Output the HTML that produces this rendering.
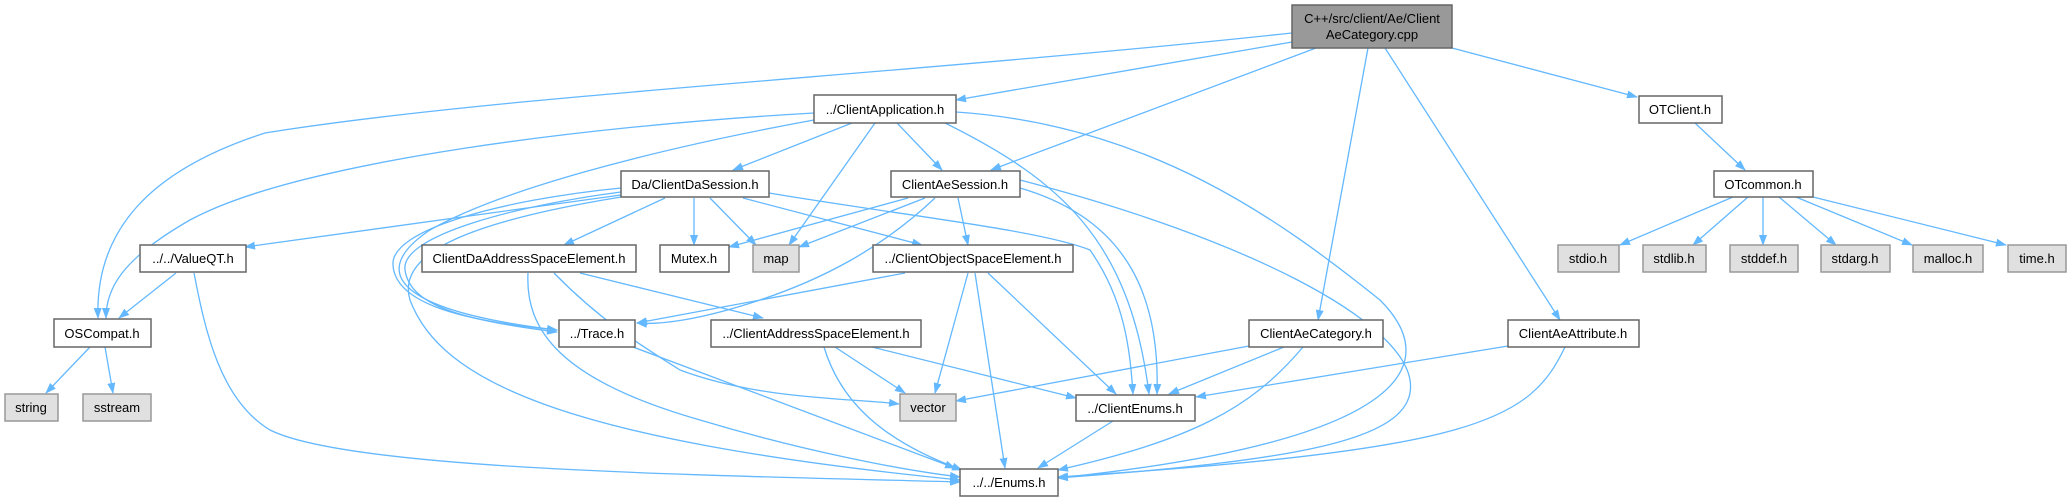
<!DOCTYPE html>
<html><head><meta charset="utf-8"><style>
html,body{margin:0;padding:0;background:#fff;width:2071px;height:501px;overflow:hidden}
svg{display:block}
text{font-family:"Liberation Sans",Arial,sans-serif;font-size:13px;fill:#000;text-anchor:middle}
.e{fill:none;stroke:#63b8ff;stroke-width:1.3}
.n{fill:#fff;stroke:#666;stroke-width:1.5}
.g{fill:#e0e0e0;stroke:#999;stroke-width:1.5}
</style></head><body>
<svg width="2071" height="501" viewBox="0 0 2071 501" xmlns="http://www.w3.org/2000/svg">
<defs><marker id="a" markerUnits="userSpaceOnUse" markerWidth="11" markerHeight="8" refX="10" refY="4" orient="auto"><path d="M0,0 L11,4 L0,8 z" fill="#63b8ff"/></marker></defs>
<g class="e" marker-end="url(#a)">
<!-- root -->
<path d="M1292,33 C900,75 500,95 265,133 C150,170 95,230 98,318"/>
<path d="M1292,42 L956,100"/>
<path d="M1316,48 L991,170"/>
<path d="M1368,48 L1318,320"/>
<path d="M1385,48 L1560,320"/>
<path d="M1452,48 L1637,97"/>
<!-- ClientApplication -->
<path d="M814,113 C600,125 300,160 190,220 C120,260 106,290 106,318"/>
<path d="M852,123 L733,170"/>
<path d="M875,123 L789,245"/>
<path d="M897,123 L942,170"/>
<path d="M814,120 C650,150 500,190 430,230 C370,270 390,310 557,330"/>
<path d="M945,123 C1060,180 1130,240 1149,394"/>
<path d="M956,112 C1150,125 1280,220 1380,300 C1440,360 1420,440 1058,478"/>
<!-- DaSession -->
<path d="M621,195 L245,247"/>
<path d="M665,198 L564,245"/>
<path d="M694,198 L694,245"/>
<path d="M710,198 L756,245"/>
<path d="M743,198 L922,245"/>
<path d="M769,193 C900,215 1040,230 1090,250 C1125,300 1130,350 1133,394"/>
<path d="M621,188 C500,200 390,230 393,265 C395,300 450,320 557,330"/>
<path d="M621,192 C520,205 400,235 405,270 C410,305 460,320 557,332"/>
<path d="M621,197 C480,220 395,250 410,300 C440,380 560,440 960,480"/>
<!-- AeSession -->
<path d="M908,198 L729,247"/>
<path d="M925,198 L799,247"/>
<path d="M935,198 C880,250 820,280 760,300 C700,320 660,325 637,323"/>
<path d="M958,198 L968,245"/>
<path d="M1020,188 C1130,220 1160,300 1157,394"/>
<path d="M1020,180 C1250,240 1400,320 1410,380 C1420,440 1300,460 1058,478"/>
<!-- ValueQT -->
<path d="M176,273 L119,318"/>
<path d="M194,273 C205,330 220,400 270,430 C350,470 700,475 960,482"/>
<!-- OSCompat -->
<path d="M90,347 L46,393"/>
<path d="M105,347 L113,393"/>
<!-- DaAddressSpace -->
<path d="M580,273 L763,318"/>
<path d="M554,273 C600,320 640,345 680,370 C760,400 850,398 899,404"/>
<path d="M528,273 C525,330 560,380 700,420 C800,450 900,470 960,477"/>
<!-- ObjSpace -->
<path d="M905,273 L637,323"/>
<path d="M968,273 L935,393"/>
<path d="M975,273 L1005,468"/>
<path d="M988,273 L1116,394"/>
<!-- Trace -->
<path d="M633,347 L955,468"/>
<!-- ClientAddressSpace -->
<path d="M835,347 L905,393"/>
<path d="M824,347 C840,400 880,440 962,470"/>
<path d="M872,347 L1076,398"/>
<!-- AeCategory -->
<path d="M1249,346 L956,401"/>
<path d="M1284,347 L1169,394"/>
<path d="M1303,347 C1250,410 1190,440 1058,470"/>
<!-- AeAttribute -->
<path d="M1508,346 L1196,397"/>
<path d="M1565,347 C1530,420 1480,450 1058,477"/>
<!-- ClientEnums -->
<path d="M1113,421 L1038,468"/>
<!-- OT -->
<path d="M1695,123 L1745,170"/>
<path d="M1733,197 L1620,245"/>
<path d="M1748,197 L1693,245"/>
<path d="M1763,197 L1763,245"/>
<path d="M1779,197 L1836,245"/>
<path d="M1796,197 L1912,245"/>
<path d="M1813,197 L2006,245"/>
</g>
<g>
<rect x="1292" y="5" width="160" height="43" fill="#999" stroke="#666" stroke-width="1.5"/>
<text x="1372" y="23">C++/src/client/Ae/Client</text><text x="1372" y="39">AeCategory.cpp</text>
<rect class="n" x="814" y="95" width="142" height="28"/><text x="885" y="114">../ClientApplication.h</text>
<rect class="n" x="1639" y="96" width="83" height="27"/><text x="1680" y="114">OTClient.h</text>
<rect class="n" x="621" y="171" width="148" height="26"/><text x="695" y="189">Da/ClientDaSession.h</text>
<rect class="n" x="891" y="171" width="129" height="26"/><text x="955" y="189">ClientAeSession.h</text>
<rect class="n" x="1714" y="171" width="99" height="26"/><text x="1763" y="189">OTcommon.h</text>
<rect class="n" x="140" y="245" width="106" height="27"/><text x="193" y="263">../../ValueQT.h</text>
<rect class="n" x="422" y="245" width="214" height="27"/><text x="529" y="263">ClientDaAddressSpaceElement.h</text>
<rect class="n" x="660" y="245" width="69" height="27"/><text x="694" y="263">Mutex.h</text>
<rect class="g" x="753" y="245" width="46" height="27"/><text x="776" y="263">map</text>
<rect class="n" x="873" y="245" width="200" height="27"/><text x="973" y="263">../ClientObjectSpaceElement.h</text>
<rect class="g" x="1558" y="245" width="61" height="27"/><text x="1588" y="263">stdio.h</text>
<rect class="g" x="1643" y="245" width="63" height="27"/><text x="1674" y="263">stdlib.h</text>
<rect class="g" x="1730" y="245" width="68" height="27"/><text x="1764" y="263">stddef.h</text>
<rect class="g" x="1821" y="245" width="69" height="27"/><text x="1855" y="263">stdarg.h</text>
<rect class="g" x="1913" y="245" width="70" height="27"/><text x="1948" y="263">malloc.h</text>
<rect class="g" x="2008" y="245" width="58" height="27"/><text x="2037" y="263">time.h</text>
<rect class="n" x="54" y="319" width="97" height="28"/><text x="102" y="338">OSCompat.h</text>
<rect class="n" x="559" y="320" width="76" height="27"/><text x="597" y="338">../Trace.h</text>
<rect class="n" x="711" y="320" width="210" height="27"/><text x="816" y="338">../ClientAddressSpaceElement.h</text>
<rect class="n" x="1249" y="320" width="134" height="27"/><text x="1316" y="338">ClientAeCategory.h</text>
<rect class="n" x="1508" y="320" width="131" height="27"/><text x="1573" y="338">ClientAeAttribute.h</text>
<rect class="g" x="5" y="394" width="53" height="27"/><text x="31" y="412">string</text>
<rect class="g" x="83" y="394" width="68" height="27"/><text x="117" y="412">sstream</text>
<rect class="g" x="900" y="394" width="56" height="27"/><text x="928" y="412">vector</text>
<rect class="n" x="1076" y="395" width="119" height="26"/><text x="1135" y="413">../ClientEnums.h</text>
<rect class="n" x="960" y="469" width="98" height="27"/><text x="1009" y="487">../../Enums.h</text>
</g>
</svg>
</body></html>
